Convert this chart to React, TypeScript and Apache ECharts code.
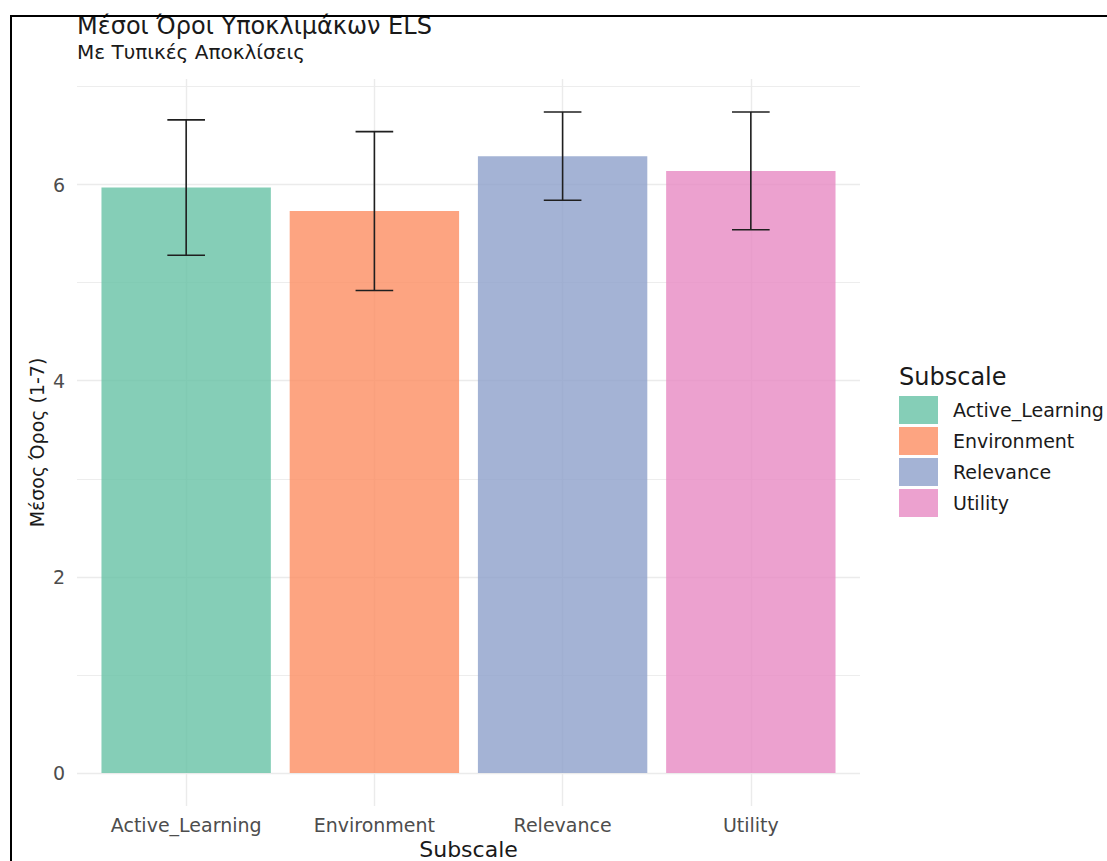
import React, { useEffect, useRef } from "react";
import * as echarts from "echarts";

const categories = ["Active_Learning", "Environment", "Relevance", "Utility"];
const means = [5.97, 5.73, 6.29, 6.14];
const sds = [0.69, 0.81, 0.45, 0.6];
const colors = [
  "rgba(102,194,165,0.8)",
  "rgba(252,141,98,0.8)",
  "rgba(141,160,203,0.8)",
  "rgba(231,138,195,0.8)",
];
const majorTicks = [0, 2, 4, 6];
const minorTicks = [1, 3, 5, 7];

const FONT = "DejaVu Sans";

export default function App() {
  const ref = useRef<HTMLDivElement>(null);
  useEffect(() => {
    if (!ref.current) return;
    const chart = echarts.init(ref.current, undefined, { renderer: "svg" });
    const ymax = Math.max(...means.map((m, i) => m + sds[i]));
    const pad = ymax * 0.05;

    // panel geometry (ggplot-like: discrete axis expanded by 0.6 band each side)
    const panelLeft = 77;
    const panelRight = 247;
    const panelTop = 79;
    const panelBottom = 55;
    const panelWidth = 1107 - panelLeft - panelRight;
    const unit = panelWidth / (categories.length + 1.2);
    const inset = unit * 0.1;

    const gridColor = "#EBEBEB";
    const hLines = [...majorTicks, ...minorTicks].map((v) => {
      const major = majorTicks.includes(v);
      return {
        yAxis: v,
        lineStyle: { color: gridColor, width: major ? 1.4 : 0.9, type: "solid" },
        label: {
          show: major,
          position: "start",
          formatter: String(v),
          distance: 12,
          color: "#4D4D4D",
          fontSize: 19,
          fontFamily: FONT,
        },
      };
    });
    const vLines = categories.map((c) => ({
      xAxis: c,
      lineStyle: { color: gridColor, width: 1.4, type: "solid" },
      label: { show: false },
    }));

    const barSeries = categories.map((c, i) => ({
      type: "bar",
      name: c,
      xAxisIndex: 0,
      yAxisIndex: 0,
      data: categories.map((_, j) => (j === i ? means[i] : "-")),
      barWidth: "90%",
      barGap: "-100%",
      itemStyle: { color: colors[i] },
      z: 2,
      ...(i === 0
        ? {
            markLine: {
              silent: true,
              symbol: "none",
              z: 1,
              animation: false,
              data: vLines,
            },
          }
        : {}),
    }));

    const errData = categories.map((_, i) => [i, means[i] - sds[i], means[i] + sds[i]]);

    chart.setOption({
      animation: false,
      backgroundColor: "#ffffff",
      textStyle: { fontFamily: FONT },
      grid: [
        {
          left: panelLeft + inset,
          right: panelRight + inset,
          top: panelTop,
          bottom: panelBottom,
          containLabel: false,
          outerBoundsMode: "none",
        },
        {
          left: panelLeft,
          right: panelRight,
          top: panelTop,
          bottom: panelBottom,
          containLabel: false,
          outerBoundsMode: "none",
        },
      ],
      legend: {
        orient: "vertical",
        left: 899,
        top: 396,
        padding: 0,
        itemWidth: 39,
        itemHeight: 28,
        itemGap: 3,
        icon: "rect",
        data: categories,
        textStyle: {
          fontSize: 19,
          color: "#1a1a1a",
          fontFamily: FONT,
          padding: [0, 0, 0, 10],
        },
      },
      xAxis: [
        {
          type: "category",
          gridIndex: 0,
          data: categories,
          axisLine: { show: false },
          axisTick: { show: false },
          splitLine: { show: false },
          axisLabel: {
            color: "#4D4D4D",
            fontSize: 19,
            margin: 9,
            interval: 0,
            fontFamily: FONT,
          },
          name: "Subscale",
          nameLocation: "middle",
          nameGap: 28,
          nameTextStyle: { color: "#1a1a1a", fontSize: 22, fontFamily: FONT },
        },
        {
          type: "value",
          gridIndex: 1,
          min: 0,
          max: 1,
          show: false,
        },
      ],
      yAxis: [
        {
          type: "value",
          gridIndex: 0,
          min: -pad,
          max: ymax + pad,
          show: false,
        },
        {
          type: "value",
          gridIndex: 1,
          min: -pad,
          max: ymax + pad,
          axisLine: { show: false },
          axisTick: { show: false },
          axisLabel: { show: false },
          splitLine: { show: false },
          name: "Μέσος Όρος (1-7)",
          nameLocation: "middle",
          nameGap: 31,
          nameTextStyle: { color: "#1a1a1a", fontSize: 19, fontFamily: FONT },
        },
      ],
      graphic: [
        {
          type: "text",
          left: 77,
          top: 14,
          style: {
            text: "Μέσοι Όροι Υποκλιμάκων ELS",
            fontSize: 24,
            fontFamily: FONT,
            fill: "#1a1a1a",
          },
        },
        {
          type: "text",
          left: 77,
          top: 42,
          style: {
            text: "Με Τυπικές Αποκλίσεις",
            fontSize: 20,
            fontFamily: FONT,
            fill: "#1a1a1a",
          },
        },
        {
          type: "text",
          left: 899,
          top: 365,
          style: {
            text: "Subscale",
            fontSize: 24,
            fontFamily: FONT,
            fill: "#1a1a1a",
          },
        },
        {
          type: "line",
          shape: { x1: 10, y1: 16, x2: 1107, y2: 16 },
          style: { stroke: "#000", lineWidth: 2 },
          z: 100,
        },
        {
          type: "line",
          shape: { x1: 11, y1: 15, x2: 11, y2: 861 },
          style: { stroke: "#000", lineWidth: 2 },
          z: 100,
        },
      ],
      series: [
        {
          type: "line",
          name: "grid",
          xAxisIndex: 1,
          yAxisIndex: 1,
          data: [[0.5, 0]],
          showSymbol: false,
          symbol: "none",
          silent: true,
          lineStyle: { opacity: 0 },
          z: 1,
          markLine: {
            silent: true,
            symbol: "none",
            z: 1,
            animation: false,
            data: hLines,
          },
        },
        ...barSeries,
        {
          type: "custom",
          name: "sd",
          xAxisIndex: 0,
          yAxisIndex: 0,
          data: errData,
          z: 3,
          encode: { x: 0, y: [1, 2] },
          renderItem: (params: any, api: any) => {
            const i = api.value(0);
            const lo = api.coord([i, api.value(1)]);
            const hi = api.coord([i, api.value(2)]);
            const half = api.size([1, 0])[0] * 0.1;
            const st = { stroke: "#1f1f1f", lineWidth: 1.6 };
            return {
              type: "group",
              children: [
                { type: "line", shape: { x1: lo[0], y1: lo[1], x2: hi[0], y2: hi[1] }, style: st },
                { type: "line", shape: { x1: lo[0] - half, y1: lo[1], x2: lo[0] + half, y2: lo[1] }, style: st },
                { type: "line", shape: { x1: hi[0] - half, y1: hi[1], x2: hi[0] + half, y2: hi[1] }, style: st },
              ],
            };
          },
        },
      ],
    });
    return () => chart.dispose();
  }, []);
  return (
    <div
      ref={ref}
      style={{ position: "fixed", left: 0, top: 0, width: 1107, height: 861 }}
    />
  );
}
